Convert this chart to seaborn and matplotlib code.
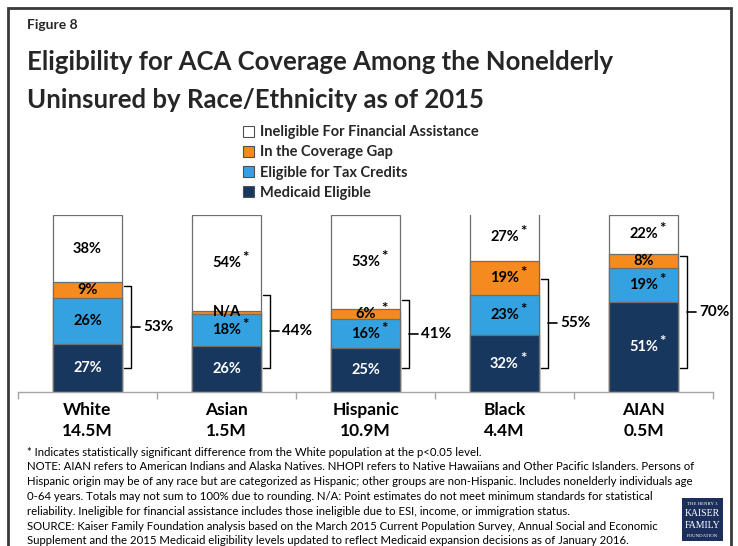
import matplotlib
matplotlib.use("Agg")
import matplotlib.pyplot as plt
import seaborn as sns
import pandas as pd
from matplotlib.patches import Rectangle

# data
groups = ["White", "Asian", "Hispanic", "Black", "AIAN"]
populations = ["14.5M", "1.5M", "10.9M", "4.4M", "0.5M"]
medicaid = [27, 26, 25, 32, 51]
tax_credits = [26, 18, 16, 23, 19]
coverage_gap = [9, 2, 6, 19, 8]      # Asian is N/A, shown as a thin sliver
ineligible = [38, 54, 53, 27, 22]
gap_labels = ["9%", "N/A", "6%", "19%", "8%"]
combined = ["53%", "44%", "41%", "55%", "70%"]
bracket_top = [60, 55, 52, 64, 77]
bracket_bottom = 13.5

# significance stars (difference from White)
star_medicaid = [False, False, False, True, True]
star_tax = [False, True, True, True, True]
star_gap = [False, False, True, True, False]
star_inelig = [False, True, True, True, True]

series = ["Medicaid Eligible", "Eligible for Tax Credits",
          "In the Coverage Gap", "Ineligible For Financial Assistance"]
colors = ["#17375E", "#34A2E0", "#F58A1F", "#FFFFFF"]

W, H = 738, 546
FONT = "Lato"

sns.set_theme(style="white")
plt.rcParams["font.family"] = [FONT, "DejaVu Sans"]

df = pd.DataFrame({"group": groups, "m": medicaid, "t": tax_credits,
                   "g": coverage_gap, "i": ineligible})
df["c1"] = df["m"]
df["c2"] = df["c1"] + df["t"]
df["c3"] = df["c2"] + df["g"]
df["c4"] = df["c3"] + df["i"]

fig = plt.figure(figsize=(W / 100, H / 100), dpi=100)
fig.patch.set_facecolor("white")


def fx(x):
    return x / W


def fy(y):
    return 1 - y / H


ax = fig.add_axes([fx(18), fy(392), fx(713) - fx(18), fy(215) - fy(392)])

# stacked bars: draw cumulative totals, tallest first
for col, name, c in zip(["c4", "c3", "c2", "c1"], series[::-1], colors[::-1]):
    sns.barplot(data=df, x="group", y=col, color=c, saturation=1, width=0.5,
                edgecolor="#6E6E6E", linewidth=0.9, errorbar=None,
                label=name, ax=ax)

ax.set_xlim(-0.5, 4.5)
ax.set_ylim(0, 100)
ax.set_ylabel("")
ax.set_xlabel("")
ax.set_yticks([])
for s in ["left", "right", "top"]:
    ax.spines[s].set_visible(False)
ax.spines["bottom"].set_color("#A6A6A6")
ax.spines["bottom"].set_linewidth(1)
ax.set_xticks(range(5))
ax.set_xticklabels([f"{g}\n{p}" for g, p in zip(groups, populations)],
                   fontsize=12.5, fontweight="bold", color="black",
                   linespacing=1.4)
ax.tick_params(axis="x", which="major", length=0, pad=7)
ax.set_xticks([-0.5, 0.5, 1.5, 2.5, 3.5, 4.5], minor=True)
ax.tick_params(axis="x", which="minor", length=5, width=1, color="#A6A6A6",
               direction="out", bottom=True)
ax.get_legend().remove()


def label(x, y, text, color, star):
    ax.text(x, y, text, ha="center", va="center", fontsize=10.5,
            fontweight="bold", color=color, clip_on=False)
    if star:
        ax.annotate("*", (x, y), xytext=(19, 5), textcoords="offset pixels",
                    ha="center", va="center", fontsize=11, fontweight="bold",
                    color=color)


for i in range(5):
    label(i, medicaid[i] / 2, f"{medicaid[i]}%", "white", star_medicaid[i])
    label(i, df["c1"][i] + tax_credits[i] / 2, f"{tax_credits[i]}%", "black",
          star_tax[i])
    label(i, df["c2"][i] + coverage_gap[i] / 2, gap_labels[i], "black",
          star_gap[i])
    label(i, df["c3"][i] + ineligible[i] / 2, f"{ineligible[i]}%", "black",
          star_inelig[i])

    # bracket grouping the eligible categories
    xb = i + 0.315
    top, bot = bracket_top[i], bracket_bottom
    mid = (top + bot) / 2
    ax.plot([i + 0.26, xb, xb, i + 0.26], [top, top, bot, bot], color="black",
            lw=1, solid_joinstyle="round", clip_on=False)
    ax.plot([xb, xb + 0.065], [mid, mid], color="black", lw=1.2, clip_on=False)
    ax.text(xb + 0.085, mid, combined[i], ha="left", va="center",
            fontsize=11, fontweight="bold", color="black")

# legend
handles = [Rectangle((0, 0), 1, 1, facecolor=c, edgecolor="#505050", lw=0.8)
           for c in colors[::-1]]
fig.legend(handles, series[::-1], loc="upper left",
           bbox_to_anchor=(fx(236), fy(118)), frameon=False,
           handlelength=0.75, handleheight=0.75, handletextpad=0.4,
           labelspacing=0.42, borderpad=0,
           prop={"family": FONT, "weight": "bold", "size": 10.5})

# titles
fig.text(fx(27), fy(25), "Figure 8", fontsize=10, fontweight="bold",
         va="center", ha="left")
fig.text(fx(27), fy(62), "Eligibility for ACA Coverage Among the Nonelderly",
         fontsize=18.5, fontweight="bold", va="center", ha="left")
fig.text(fx(27), fy(100), "Uninsured by Race/Ethnicity as of 2015",
         fontsize=18.5, fontweight="bold", va="center", ha="left")

notes = [
    "* Indicates statistically significant difference from the White population at the p<0.05 level.",
    "NOTE: AIAN refers to American Indians and Alaska Natives. NHOPI refers to Native Hawaiians and Other Pacific Islanders. Persons of",
    "Hispanic origin may be of any race but are categorized as Hispanic; other groups are non-Hispanic. Includes nonelderly individuals age",
    "0-64 years. Totals may not sum to 100% due to rounding. N/A: Point estimates do not meet minimum standards for statistical",
    "reliability. Ineligible for financial assistance includes those ineligible due to ESI, income, or immigration status.",
    "SOURCE: Kaiser Family Foundation analysis based on the March 2015 Current Population Survey, Annual Social and Economic",
    "Supplement and the 2015 Medicaid eligibility levels updated to reflect Medicaid expansion decisions as of January 2016.",
]
for k, line in enumerate(notes):
    fig.text(fx(27), fy(452 + k * 14.8), line, fontsize=8.2, va="center",
             ha="left", color="black")

# logo block
fig.patches.append(Rectangle((fx(682), fy(541)), fx(41), fy(498) - fy(541),
                             transform=fig.transFigure, facecolor="#1C2F5C",
                             edgecolor="none"))
for txt, yy, sz in [("THE HENRY J.", 504, 3.5), ("KAISER", 514, 7),
                    ("FAMILY", 525, 7), ("FOUNDATION", 536, 3.5)]:
    fig.text(fx(702.5), fy(yy), txt, color="white", fontsize=sz,
             family="Liberation Serif", ha="center", va="center")

# outer frame
fig.patches.append(Rectangle((fx(8), fy(570)), fx(731) - fx(8), fy(8) - fy(570),
                             transform=fig.transFigure, fill=False,
                             edgecolor="#3A3A3A", lw=2, clip_on=False))

fig.savefig("out.png", dpi=100)
